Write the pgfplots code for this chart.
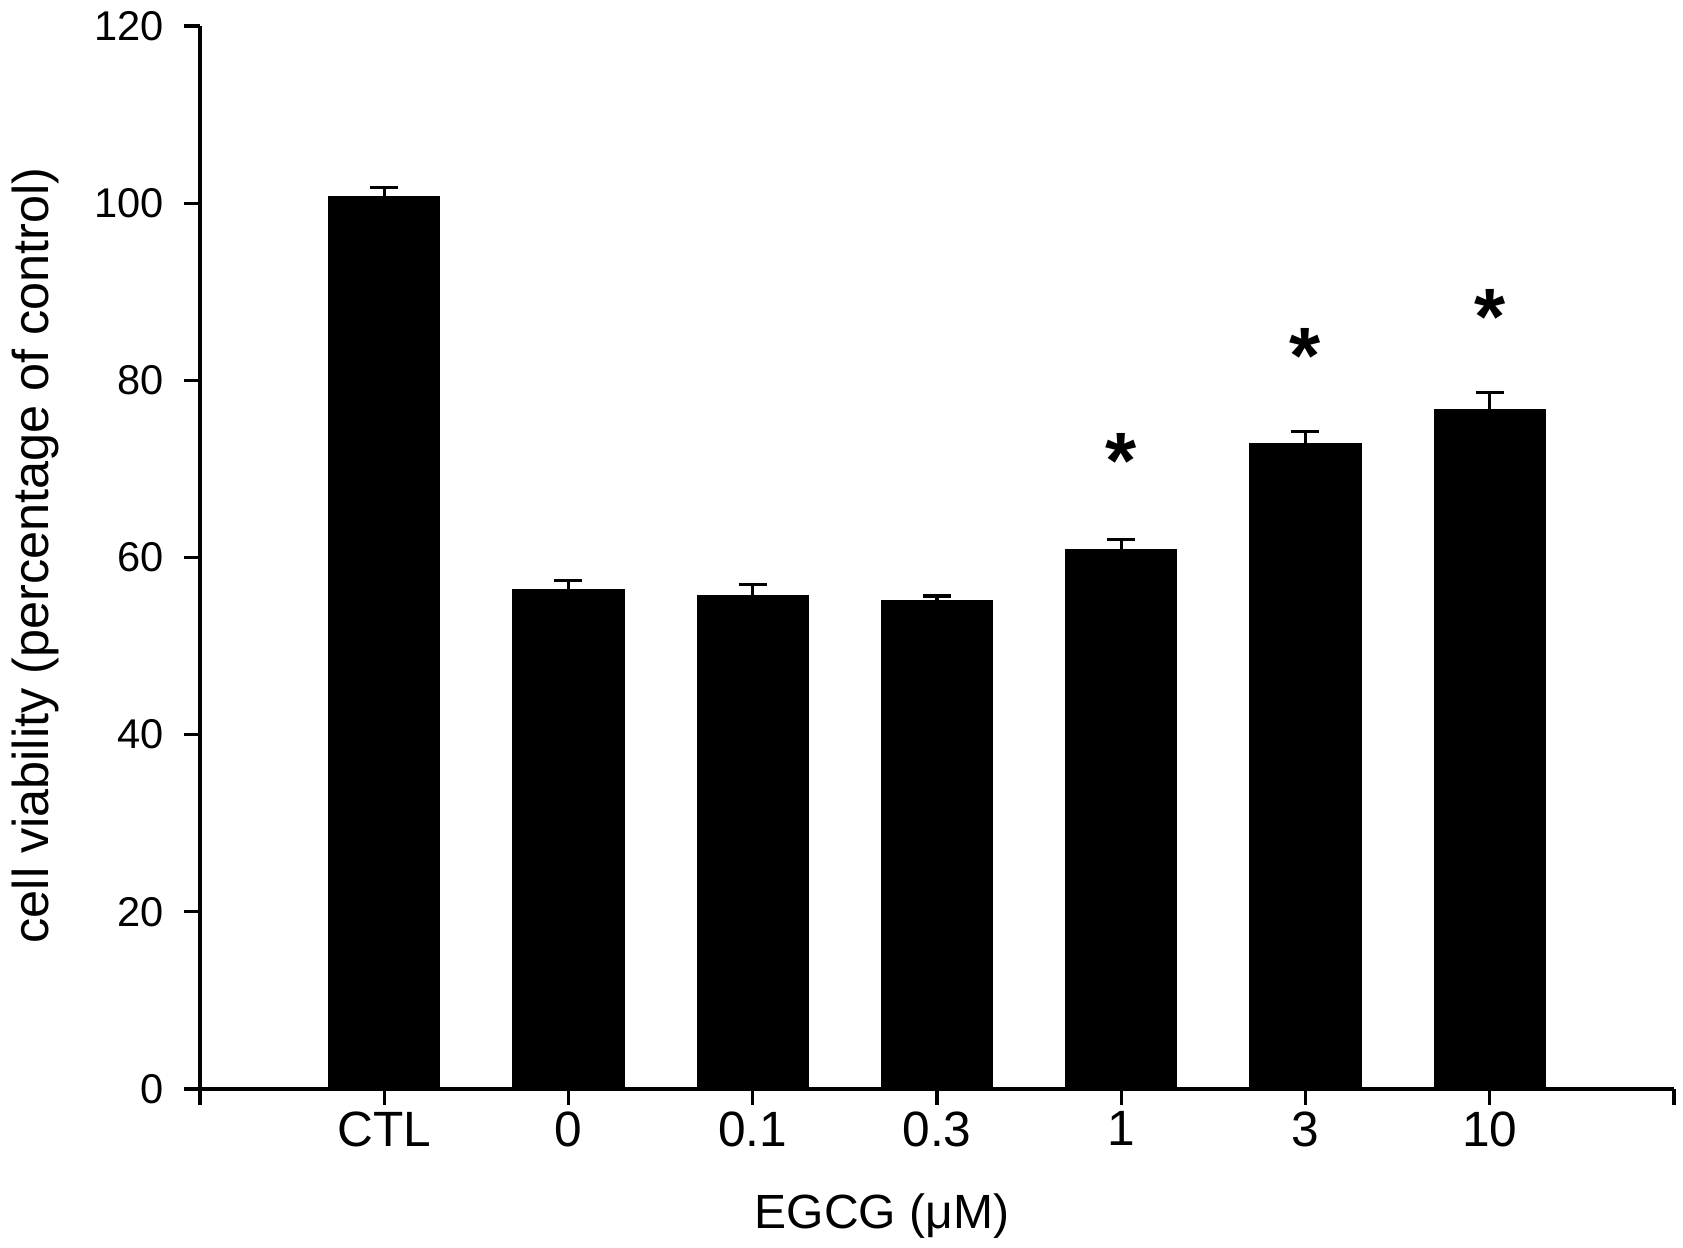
\documentclass[border=0pt]{standalone}
\usepackage{fontspec}
\setmainfont{Liberation Sans}
\usepackage{pgfplots}
\pgfplotsset{compat=1.18}
\begin{document}
\begin{tikzpicture}
\begin{axis}[
  scale only axis,
  width=368.5pt, height=265.75pt,
  xmin=-1, xmax=7, ymin=0, ymax=120,
  axis x line*=bottom, axis y line*=left,
  axis line style={line width=0.8pt, black},
  xtick={-1,0,1,2,3,4,5,6,7},
  xticklabels={,CTL,0,0.1,0.3,1,3,10,},
  ytick={0,20,40,60,80,100,120},
  tick align=outside,
  major tick length=4pt,
  tick style={line width=0.8pt, black},
  /pgf/number format/assume math mode=true,
  yticklabel style={font=\fontsize{10.4}{12}\selectfont, xshift=-1.5pt},
  xticklabel style={font=\fontsize{12.4}{14}\selectfont, yshift=1.9pt},
  xlabel={EGCG (μM)},
  ylabel={cell viability (percentage of control)},
  xlabel style={font=\fontsize{12}{14}\selectfont, at={(axis description cs:0.4627,-0.1310)}, anchor=base},
  ylabel style={font=\fontsize{12.6}{14}\selectfont, at={(axis description cs:-0.1115,0.502)}, anchor=center},
  clip=false,
]
\addplot[ybar, bar width=0.6, fill=black, draw=black,
  error bars/.cd, y dir=plus, y explicit, error mark=-,
  error bar style={line width=0.8pt, black},
  error mark options={rotate=90, line width=0.8pt, mark size=3.5pt, black}]
coordinates {
(0,100.67) +- (0,1.13)
(1,56.33) +- (0,1.10)
(2,55.66) +- (0,1.31)
(3,55.06) +- (0,0.60)
(4,60.85) +- (0,1.21)
(5,72.78) +- (0,1.43)
(6,76.69) +- (0,1.96)
};
\addplot[draw=none, mark=none, nodes near coords={\bfseries *},
  every node near coord/.append style={anchor=north, inner sep=0pt, font=\fontsize{20}{24}\selectfont}]
coordinates {(4,74.1) (5,86.0) (6,90.3)};
\coordinate (sw) at (rel axis cs:0,0);
\end{axis}
\pgfresetboundingbox
\path ([shift={(-50pt,-39.75pt)}]sw) rectangle ([shift={(370.75pt,272.25pt)}]sw);
\end{tikzpicture}
\end{document}
